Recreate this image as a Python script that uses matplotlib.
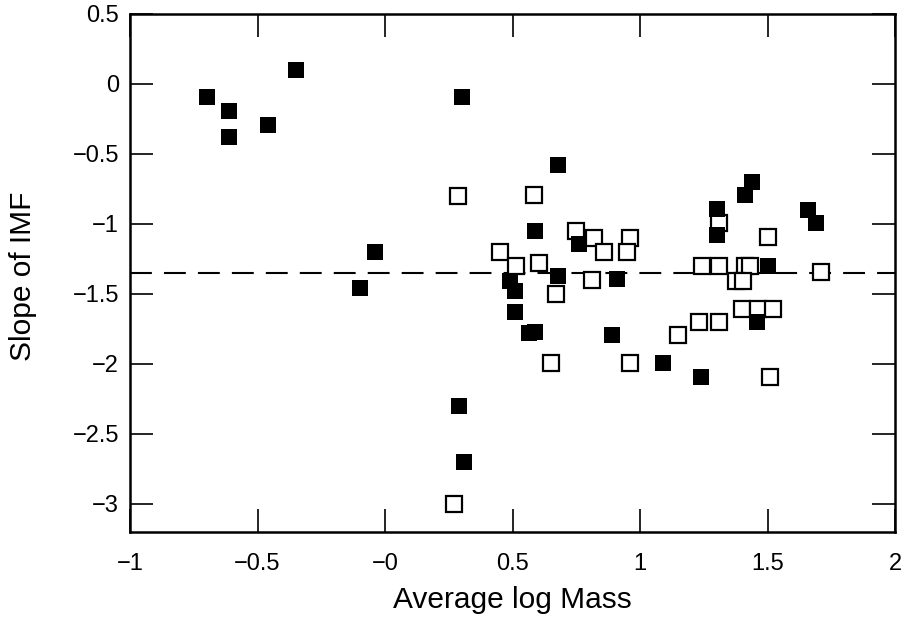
import matplotlib
matplotlib.use("Agg")
import matplotlib.pyplot as plt

# Filled squares
filled_x = [-0.70, -0.61, -0.61, -0.46, -0.35, 0.30, -0.04, -0.10, 0.68, 0.59,
            0.76, 0.49, 0.51, 0.68, 0.91, 0.51, 0.565, 0.59, 0.89, 1.09,
            0.29, 0.31, 1.44, 1.41, 1.30, 1.30, 1.66, 1.69, 1.50, 1.46, 1.24]
filled_y = [-0.09, -0.19, -0.38, -0.29, 0.10, -0.09, -1.20, -1.46, -0.58, -1.05,
            -1.14, -1.41, -1.48, -1.37, -1.39, -1.63, -1.78, -1.77, -1.79, -1.99,
            -2.30, -2.70, -0.70, -0.79, -0.89, -1.08, -0.90, -0.99, -1.30, -1.70, -2.09]

# Open squares
open_x = [0.285, 0.585, 0.75, 0.82, 0.86, 0.96, 0.95, 0.45, 0.515, 0.605,
          0.81, 0.67, 0.65, 0.96, 0.27, 1.31, 1.50, 1.245, 1.31, 1.41, 1.43,
          1.375, 1.405, 1.71, 1.40, 1.464, 1.523, 1.23, 1.31, 1.15, 1.51]
open_y = [-0.80, -0.79, -1.05, -1.10, -1.20, -1.10, -1.20, -1.20, -1.30, -1.28,
          -1.40, -1.50, -1.99, -1.99, -3.00, -0.99, -1.09, -1.30, -1.30, -1.30, -1.30,
          -1.41, -1.41, -1.34, -1.61, -1.61, -1.61, -1.70, -1.70, -1.79, -2.09]

ref_slope = -1.35

x_ticks = [-1, -0.5, 0, 0.5, 1, 1.5, 2]
x_ticklabels = ["\u22121", "\u22120.5", "\u22120", "0.5", "1", "1.5", "2"]
y_ticks = [0.5, 0, -0.5, -1, -1.5, -2, -2.5, -3]
y_ticklabels = ["0.5", "0", "\u22120.5", "\u22121", "\u22121.5", "\u22122", "\u22122.5", "\u22123"]

plt.rcParams['font.family'] = ['Liberation Sans', 'DejaVu Sans']

fig = plt.figure(figsize=(9.06, 6.20), dpi=100)
ax = fig.add_axes([130/906, 1-532/620, (895-130)/906, (532-14)/620])

ax.axhline(ref_slope, color='black', lw=1.5, dashes=(10.5, 5.8), zorder=1)
ax.plot(open_x, open_y, linestyle='none', marker='s', markersize=11,
        markerfacecolor='white', markeredgecolor='black', markeredgewidth=1.6, zorder=2)
ax.plot(filled_x, filled_y, linestyle='none', marker='s', markersize=12,
        markerfacecolor='black', markeredgecolor='black', markeredgewidth=0, zorder=3)

ax.set_xlim(-1, 2)
ax.set_ylim(-3.2, 0.5)
ax.set_xticks(x_ticks)
ax.set_xticklabels(x_ticklabels)
ax.set_yticks(y_ticks)
ax.set_yticklabels(y_ticklabels)
ax.tick_params(direction='in', length=16.5, width=1.2, labelsize=17,
               top=True, right=True, pad=8)
ax.tick_params(axis='x', pad=15)
for s in ax.spines.values():
    s.set_linewidth(1.8)

xl = ax.set_xlabel("Average log Mass", fontsize=21.5)
yl = ax.set_ylabel("Slope of IMF", fontsize=21.5)
xl.set_verticalalignment('baseline')
yl.set_verticalalignment('baseline')
ax.xaxis.set_label_coords(0.5, -0.1467)
ax.yaxis.set_label_coords(-0.1294, 0.494)

fig.savefig("out.png", dpi=100)
